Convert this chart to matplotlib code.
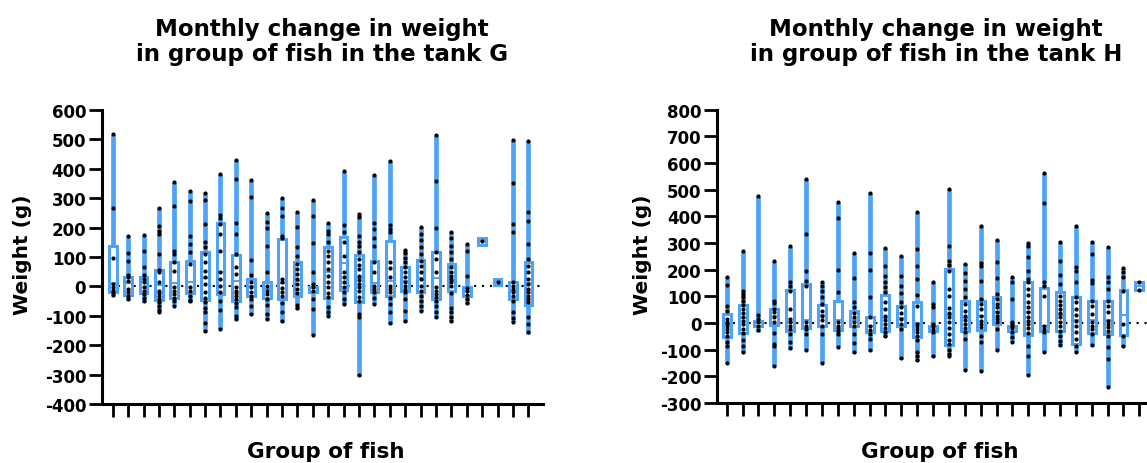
import matplotlib
matplotlib.use("Agg")
import matplotlib.pyplot as plt

plt.rcParams['font.family'] = ['DejaVu Sans']
plt.rcParams['font.weight'] = 'bold'

# ---------------- Tank G ----------------
g_min = [-34, -46, -52, -88, -68, -52, -154, -145, -113, -96, -113, -120, -77, -164,
         -100, -63, -304, -60, -128, -120, -84, -107, -120, -60, 140, 5, -122, -162]
g_q1 = [-18, -29, -23, -45, -39, -23, -45, -26, -50, -32, -39, -43, -32, -20,
        -40, -12, -52, -20, -34, -15, -18, -43, -16, -32, 140, 5, -43, -63]
g_med = [10, 10, 15, 5, 10, 15, 30, 50, 20, 0, -10, 10, 20, -5,
         50, 80, 30, 10, 20, 20, 30, 30, 20, -15, 153, 16, -15, 10]
g_q3 = [138, 33, 33, 57, 84, 87, 116, 215, 108, 25, 14, 161, 82, -3,
        133, 169, 107, 85, 155, 67, 91, 118, 77, -1, 165, 26, 16, 82]
g_max = [520, 170, 175, 266, 356, 325, 317, 382, 430, 363, 248, 299, 252, 295,
         214, 391, 246, 379, 426, 125, 201, 516, 186, 144, 165, 26, 499, 493]
g_points = [
    [520, 265, 95, 8, -3, -11, -20, -29],
    [170, 112, 87, 38, 31, 19, -9, -20, -32, -43],
    [175, 121, 65, 38, 25, 14, -3, -15, -26, -41, -50],
    [266, 204, 189, 178, 110, 57, 50, 14, -15, -23, -32, -43, -54, -66, -79, -88],
    [356, 274, 121, 110, 82, 53, -3, -15, -26, -39, -51, -66],
    [325, 289, 172, 144, 118, 76, -3, -15, -32, -45, -50],
    [317, 295, 212, 150, 133, 110, 82, 53, 31, 8, -20, -41, -54, -75, -88, -125, -151],
    [382, 243, 231, 212, 178, 121, 50, 25, 0, -20, -49, -79, -145],
    [430, 365, 215, 178, 110, 65, 42, -3, -15, -24, -32, -43, -57, -71, -100, -111],
    [363, 305, 91, 40, 16, -3, -18, -32, -43, -66, -94],
    [248, 218, 197, 136, 48, 2, -15, -26, -43, -63, -94, -111],
    [299, 265, 238, 172, 163, 25, 14, -7, -20, -34, -57, -88, -117],
    [252, 201, 135, 104, 76, 59, 42, 25, 8, -9, -23, -63, -75],
    [295, 238, 147, 50, 8, -3, -15, -43, -77, -164],
    [214, 189, 178, 150, 121, 104, 82, 59, 36, 16, -3, -23, -37, -71, -88, -100],
    [391, 209, 186, 150, 104, 48, 31, 16, -1, -18, -43, -60],
    [246, 235, 172, 152, 138, 116, 93, 73, 59, 36, 23, 8, -3, -15, -37, -49, -94, -105, -302],
    [379, 214, 195, 163, 138, 82, 48, 2, -9, -20, -41, -59],
    [426, 209, 195, 184, 82, 61, 31, 2, -9, -20, -41, -60, -86, -125],
    [125, 113, 95, 82, 65, 48, 31, 16, 2, -9, -18, -43, -83, -117],
    [201, 178, 158, 133, 110, 87, 70, 48, 25, 2, -15, -32, -49, -66, -83],
    [516, 359, 197, 118, 93, 48, -3, -15, -26, -37, -49, -66, -88, -105],
    [186, 163, 138, 118, 93, 65, 48, 36, 25, 14, 2, -23, -75, -88, -105, -117],
    [144, 121, 34, -7, -15, -29, -43, -57],
    [153],
    [16],
    [499, 351, 212, 184, 14, 2, -9, -20, -32, -49, -88, -109, -120],
    [493, 252, 223, 144, 93, 70, 48, 25, 8, -9, -20, -32, -43, -54, -105, -128, -156],
]

# ---------------- Tank H ----------------
h_min = [-150, -114, -32, -160, -97, -101, -151, -89, -112, -104, -54, -135, -141, -129,
         -122, -176, -179, -101, -72, -195, -107, -85, -110, -85, -241, -91, 124]
h_q1 = [-54, -37, -10, -8, -29, -20, -10, -25, -12, -35, -31, -12, -54, -29,
        -82, -31, -26, -4, -29, -45, -31, -31, -79, -37, -41, -45, 124]
h_med = [0, 20, 0, 25, 5, 10, 30, 10, 10, -10, 20, 20, 0, -15,
         30, 20, 25, 40, -15, 40, -10, 30, 10, 10, 10, 30, 138]
h_q3 = [32, 67, 9, 52, 124, 146, 69, 81, 44, 24, 106, 65, 77, -10,
        202, 81, 84, 96, -10, 152, 131, 115, 96, 84, 81, 124, 152]
h_max = [171, 271, 477, 234, 290, 540, 155, 455, 261, 486, 280, 250, 417, 155,
         502, 221, 365, 312, 174, 299, 562, 302, 365, 302, 284, 205, 152]
h_points = [
    [171, 142, 65, 46, 15, 2, -4, -12, -22, -35, -50, -72, -85, -150],
    [271, 121, 109, 96, 84, 67, 52, 37, 21, 9, -4, -22, -39, -62, -87, -110],
    [477, 31, 15, 2, -12, -25],
    [234, 84, 75, 52, 42, 21, 2, -39, -79, -87, -160],
    [290, 155, 140, 121, 52, 15, 2, -10, -22, -41, -72, -95],
    [540, 334, 196, 159, 140, 2, -10, -22, -41, -100],
    [155, 140, 121, 96, 71, 46, 27, 11, -10, -41, -150],
    [455, 394, 200, 115, 2, -10, -20, -29, -41, -89],
    [261, 169, 80, 59, 37, 21, 2, -10, -41, -75, -110],
    [486, 261, 199, 99, 21, -10, -25, -41, -60, -101],
    [280, 212, 177, 152, 134, 115, 77, 52, 27, 11, -4, -20, -35, -50],
    [250, 175, 140, 112, 77, 59, 37, 15, -4, -22, -132],
    [417, 277, 215, 165, 105, 65, -4, -12, -22, -35, -47, -62, -110, -122, -137],
    [155, 71, 59, -4, -12, -22, -35, -125],
    [502, 290, 234, 217, 196, 127, 100, 55, 37, 21, 2, -20, -41, -62, -79, -100, -116, -122],
    [221, 186, 159, 127, 96, 71, 46, 27, 11, -4, -20, -35, -60, -176],
    [365, 225, 215, 157, 90, 71, 52, 27, 9, -4, -16, -47, -72, -179],
    [312, 230, 167, 109, 90, 71, 59, 42, 27, 15, 2, -22, -100],
    [174, 155, 90, 2, -4, -12, -20, -32, -54, -70],
    [299, 290, 246, 196, 165, 152, 127, 105, 77, 59, 40, 21, 9, -4, -20, -37, -85, -125, -195],
    [562, 449, 152, 140, 102, -12, -22, -32, -107],
    [302, 234, 180, 146, 102, 84, 67, 52, 37, 21, 5, -12, -29, -47, -66, -82],
    [365, 209, 196, 155, 96, 77, 52, 30, 9, -12, -35, -60, -85, -107],
    [302, 259, 162, 150, 84, 65, 34, 2, -10, -22, -41, -82],
    [284, 171, 152, 127, 84, 65, 40, 9, -4, -16, -29, -47, -91, -135, -239],
    [205, 192, 171, 121, -4, -47, -87],
    [152, 124],
]

BLUE = '#4FA3F7'
W, H = 1147, 464
fig = plt.figure(figsize=(W / 100, H / 100), dpi=100)


def panel(rect, mins, q1s, meds, q3s, maxs, pts, ylim, yticks, xlim, title, title_x, ylab_x):
    ax = fig.add_axes(rect)
    stats = []
    for lo, a, m, b, hi in zip(mins, q1s, meds, q3s, maxs):
        stats.append(dict(whislo=lo, q1=a, med=m, q3=b, whishi=hi))
    pos = list(range(1, len(stats) + 1))
    ax.axhline(0, color='black', linestyle=(0, (1, 2.8)), lw=1.5, zorder=0.5)
    ax.bxp(stats, positions=pos, widths=0.5, showfliers=False, showcaps=False,
           patch_artist=True,
           boxprops=dict(facecolor='white', edgecolor=BLUE, linewidth=2.2),
           whiskerprops=dict(color=BLUE, linewidth=3.4, solid_capstyle='butt'),
           medianprops=dict(color=BLUE, linewidth=1.5),
           manage_ticks=False, zorder=2)
    for p, vals in zip(pos, pts):
        ax.scatter([p] * len(vals), vals, s=9, color='black', linewidths=0, zorder=3)
    ax.set_xlim(*xlim)
    ax.set_ylim(*ylim)
    ax.set_yticks(yticks)
    ax.set_yticklabels([str(t) for t in yticks], fontsize=12, fontweight='bold')
    ax.set_xticks(pos)
    ax.set_xticklabels([''] * len(pos))
    for s in ['top', 'right']:
        ax.spines[s].set_visible(False)
    for s in ['left', 'bottom']:
        ax.spines[s].set_linewidth(2.2)
    ax.tick_params(axis='both', length=9.5, width=2.0, direction='out', pad=1.5)
    fig.text(title_x, 1 - 42 / H, title, ha='center', va='center', fontsize=16.5,
             fontweight='bold', linespacing=1.12)
    fig.text(title_x + 4 / W, 1 - 452 / H, 'Group of fish', ha='center', va='center',
             fontsize=15.5, fontweight='bold')
    fig.text(ylab_x, 1 - 255 / H, 'Weight (g)', ha='center', va='center',
             fontsize=14.5, fontweight='bold', rotation=90)
    return ax


panel([101.5 / W, (H - 405) / H, 441.8 / W, 294 / H], g_min, g_q1, g_med, g_q3, g_max, g_points,
      (-400, 600), list(range(-400, 601, 100)), (0.27, 28.97),
      'Monthly change in weight\nin group of fish in the tank G', 322 / W, 23 / W)
panel([717 / W, (H - 404) / H, 443 / W, 293.3 / H], h_min, h_q1, h_med, h_q3, h_max, h_points,
      (-300, 800), list(range(-300, 801, 100)), (0.39, 28.3),
      'Monthly change in weight\nin group of fish in the tank H', 936 / W, 642 / W)

fig.savefig('out.png', dpi=100)
